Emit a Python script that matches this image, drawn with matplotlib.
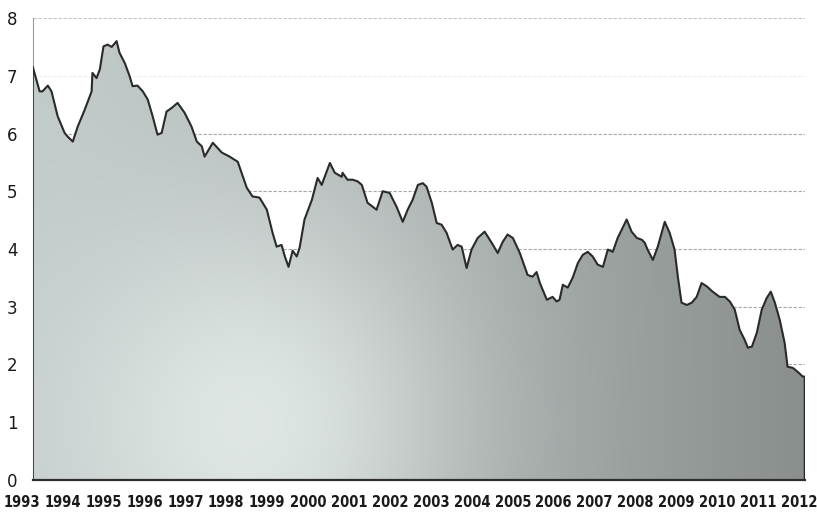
import numpy as np
import matplotlib
matplotlib.use("Agg")
import matplotlib.pyplot as plt
from matplotlib.patches import Polygon
from matplotlib.transforms import blended_transform_factory

# yield path (decimal year, percent)
dates = [
    1993.27, 1993.44, 1993.51, 1993.64, 1993.73, 1993.88, 1994.05, 1994.12, 1994.25, 1994.37,
    1994.54, 1994.71, 1994.73, 1994.83, 1994.91, 1995.00, 1995.10, 1995.20, 1995.32, 1995.39,
    1995.52, 1995.64, 1995.71, 1995.83, 1995.96, 1996.08, 1996.20, 1996.32, 1996.42, 1996.54,
    1996.66, 1996.81, 1996.98, 1997.15, 1997.28, 1997.40, 1997.47, 1997.67, 1997.89, 1998.08,
    1998.28, 1998.50, 1998.64, 1998.81, 1998.99, 1999.13, 1999.23, 1999.35, 1999.43, 1999.52,
    1999.62, 1999.72, 1999.79, 1999.91, 2000.09, 2000.23, 2000.33, 2000.53, 2000.65, 2000.82,
    2000.84, 2000.96, 2001.09, 2001.21, 2001.31, 2001.45, 2001.67, 2001.82, 2001.99, 2002.16,
    2002.31, 2002.43, 2002.55, 2002.68, 2002.80, 2002.89, 2003.02, 2003.14, 2003.26, 2003.38,
    2003.53, 2003.65, 2003.75, 2003.87, 2003.99, 2004.14, 2004.31, 2004.48, 2004.63, 2004.75,
    2004.87, 2005.00, 2005.17, 2005.36, 2005.48, 2005.58, 2005.66, 2005.83, 2005.97, 2006.07,
    2006.14, 2006.22, 2006.34, 2006.46, 2006.59, 2006.71, 2006.83, 2006.95, 2007.07, 2007.20,
    2007.32, 2007.44, 2007.56, 2007.78, 2007.90, 2008.03, 2008.15, 2008.22, 2008.29, 2008.42,
    2008.54, 2008.71, 2008.83, 2008.95, 2009.03, 2009.12, 2009.25, 2009.37, 2009.49, 2009.61,
    2009.74, 2009.88, 2010.05, 2010.18, 2010.30, 2010.42, 2010.54, 2010.66, 2010.74, 2010.84,
    2010.96, 2011.08, 2011.20, 2011.30, 2011.40, 2011.52, 2011.64, 2011.71, 2011.84, 2011.96,
    2012.08, 2012.13,
]
yields = [
    7.16, 6.73, 6.73, 6.83, 6.73, 6.30, 6.01, 5.95, 5.86, 6.12,
    6.41, 6.73, 7.05, 6.96, 7.11, 7.51, 7.54, 7.50, 7.60, 7.40,
    7.22, 6.99, 6.82, 6.83, 6.73, 6.59, 6.30, 5.98, 6.01, 6.38,
    6.44, 6.53, 6.36, 6.12, 5.86, 5.78, 5.60, 5.84, 5.67, 5.60,
    5.51, 5.06, 4.91, 4.89, 4.68, 4.28, 4.04, 4.07, 3.87, 3.69,
    3.97, 3.87, 4.02, 4.51, 4.85, 5.23, 5.11, 5.49, 5.32, 5.25,
    5.32, 5.20, 5.20, 5.17, 5.11, 4.80, 4.68, 5.00, 4.97, 4.73,
    4.47, 4.68, 4.85, 5.11, 5.14, 5.08, 4.80, 4.45, 4.42, 4.28,
    3.99, 4.07, 4.04, 3.67, 3.99, 4.19, 4.30, 4.11, 3.93, 4.12,
    4.25, 4.19, 3.93, 3.55, 3.52, 3.60, 3.41, 3.12, 3.17, 3.09,
    3.12, 3.38, 3.33, 3.50, 3.76, 3.90, 3.95, 3.87, 3.73, 3.69,
    3.99, 3.95, 4.19, 4.51, 4.30, 4.19, 4.16, 4.11, 3.99, 3.81,
    4.04, 4.47, 4.28, 3.99, 3.52, 3.07, 3.03, 3.07, 3.17, 3.41,
    3.35, 3.26, 3.17, 3.17, 3.09, 2.95, 2.60, 2.43, 2.29, 2.31,
    2.55, 2.95, 3.15, 3.26, 3.07, 2.77, 2.37, 1.96, 1.94, 1.87,
    1.79, 1.79,
]
year_labels = list(range(1993, 2013))
y_ticks = list(range(0, 9))


def main():
    fig = plt.figure(figsize=(8.17, 5.16), dpi=100)
    ax = fig.add_axes([0.040, 0.070, 0.945, 0.895])
    x0, x1 = dates[0], dates[-1]
    ax.set_xlim(x0, x1)
    ax.set_ylim(0, 8)

    # faint dashed gridlines behind the area (the 7 and 8 lines are washed out in the scan)
    for v in y_ticks[1:]:
        col = "#ededed" if v == 7 else ("#c4c4c4" if v == 8 else "#a8a8a8")
        ax.axhline(v, color=col, lw=0.8, ls=(0, (3, 1.5)), zorder=0)

    # shaded area: soft light patch left of centre, darker toward the right
    nx, ny = 400, 200
    gx = np.linspace(0, 1, nx)
    gy = np.linspace(0, 1, ny)
    X, Y = np.meshgrid(gx, gy)
    left = np.array([0.76, 0.79, 0.79])
    right = np.array([0.54, 0.56, 0.55])
    light = np.array([0.89, 0.92, 0.91])
    base = left[None, None, :] + (right - left)[None, None, :] * (X[..., None] ** 1.3)
    glow = np.exp(-((X - 0.28) / 0.25) ** 2 - ((Y - 0.12) / 0.45) ** 2)[..., None]
    img = base + (light - base) * glow * 0.9
    im = ax.imshow(img, extent=[x0, x1, 0, 8], origin="lower", aspect="auto", zorder=1)

    verts = [(x0, 0)] + list(zip(dates, yields)) + [(x1, 0)]
    poly = Polygon(verts, closed=True, facecolor="none", edgecolor="none")
    ax.add_patch(poly)
    im.set_clip_path(poly)
    ax.plot([x0] + dates + [x1], [0] + yields + [0], color="#2a2a2a", lw=1.5, zorder=3)

    for s in ["top", "right"]:
        ax.spines[s].set_visible(False)
    ax.spines["left"].set_color("#9a9a9a")
    ax.spines["left"].set_linewidth(0.8)
    ax.spines["bottom"].set_color("#2e2e2e")
    ax.spines["bottom"].set_linewidth(1.6)
    ax.spines["bottom"].set_zorder(4)

    ax.set_yticks(y_ticks)
    ax.set_yticklabels([str(v) for v in y_ticks], fontsize=12, color="#1a1a1a")
    ax.tick_params(axis="y", length=0, pad=11)
    ax.set_xticks([])

    trans = blended_transform_factory(ax.transData, ax.transAxes)
    for yr in year_labels:
        ax.text(yr, -0.032, str(yr), transform=trans, ha="center", va="top",
                fontsize=10.5, fontweight="bold", fontstretch="condensed",
                color="#1a1a1a", clip_on=False, family="DejaVu Sans")

    fig.savefig("out.png", dpi=100)


if __name__ == "__main__":
    main()
